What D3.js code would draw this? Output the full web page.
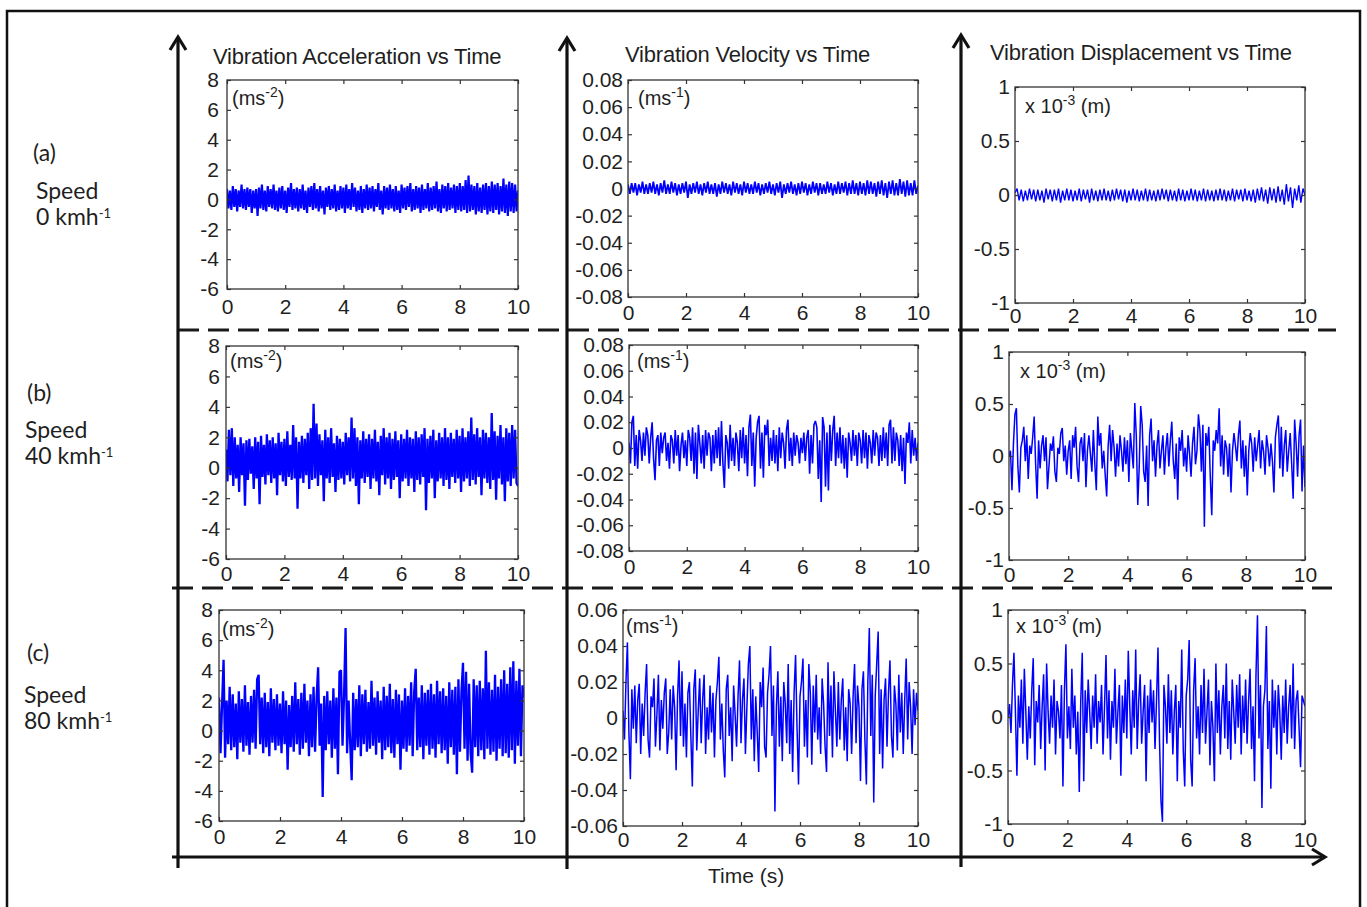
<!DOCTYPE html>
<html>
<head>
<meta charset="utf-8">
<script src="https://cdn.jsdelivr.net/npm/d3@7"></script>
<style>
  html, body { margin: 0; padding: 0; background: #fff; }
  svg { display: block; }
</style>
</head>
<body>
<svg id="fig" width="1367" height="907"></svg>
<script>
// ---------- tick values ----------
const timeTicks = [0, 2, 4, 6, 8, 10];
const accTicks = [-6, -4, -2, 0, 2, 4, 6, 8];
const velTicksWide = [-0.08, -0.06, -0.04, -0.02, 0, 0.02, 0.04, 0.06, 0.08];
const velTicksNarrow = [-0.06, -0.04, -0.02, 0, 0.02, 0.04, 0.06];
const dispTicks = [-1, -0.5, 0, 0.5, 1];

// ---------- labels ----------
const columnTitles = ["Vibration Acceleration vs Time", "Vibration Velocity vs Time", "Vibration Displacement vs Time"];
const rowTags = ["(a)", "(b)", "(c)"];
const rowSpeeds = ["0", "40", "80"];
const timeLabel = "Time (s)";

// ---------- recorded signals, uniformly sampled over 0–10 s ----------
// acceleration (m s^-2)
const accA = [
  0.7,-0.6,0.6,-0.7,0.9,-0.5,0.7,-0.8,0.6,-0.5,
  1.0,-0.6,0.7,-0.7,0.8,-0.5,0.7,-0.9,0.6,-0.6,
  0.7,-1.1,0.8,-0.6,1.0,-0.7,0.6,-0.8,0.9,-0.5,
  0.7,-0.6,1.0,-0.7,0.6,-0.8,0.8,-0.6,0.9,-0.7,
  0.6,-0.9,0.8,-0.5,1.1,-0.7,0.7,-0.6,0.8,-0.8,
  0.7,-0.6,1.0,-0.7,0.6,-0.9,0.8,-0.5,0.9,-0.7,
  1.1,-0.6,0.7,-0.8,0.9,-0.6,0.6,-1.0,0.8,-0.5,
  0.9,-0.7,0.7,-0.6,1.0,-0.8,0.6,-0.7,0.9,-0.6,
  0.8,-0.9,1.0,-0.6,0.7,-0.7,1.1,-0.5,0.8,-0.8,
  0.6,-0.7,0.9,-0.9,0.7,-0.6,1.0,-0.7,0.8,-0.6,
  0.9,-0.8,0.7,-0.5,1.1,-0.7,0.6,-1.0,0.9,-0.6,
  0.8,-0.7,1.0,-0.6,0.7,-0.8,0.9,-0.7,0.6,-0.9,
  1.0,-0.6,0.8,-0.7,0.9,-0.5,1.1,-0.8,0.7,-0.7,
  0.9,-0.6,0.8,-0.9,1.0,-0.7,0.7,-0.6,1.1,-0.8,
  0.8,-0.7,0.9,-0.6,1.2,-0.8,0.7,-0.9,1.0,-0.6,
  0.9,-0.8,1.1,-0.7,0.8,-0.6,1.0,-0.9,0.9,-0.7,
  1.1,-0.8,0.9,-0.7,1.3,-0.9,1.6,-0.8,1.0,-0.7,
  0.9,-1.0,1.1,-0.8,0.8,-0.9,1.0,-0.7,1.1,-1.0,
  0.9,-0.8,1.2,-0.9,1.0,-0.7,1.1,-1.0,0.9,-0.8,
  1.4,-0.9,1.0,-1.1,1.2,-0.8,1.1,-0.9,1.0,-0.8,
  0.6
];
const accB = [
  1.2,-0.9,2.5,-0.5,2.6,-1.2,2.0,-0.7,1.5,-1.6,
  2.0,-0.5,1.6,-2.5,1.8,-0.8,1.9,-0.4,1.4,-1.4,
  2.0,-0.7,1.7,-2.4,2.1,-0.6,1.5,-1.1,2.2,-0.5,
  1.8,-1.0,2.0,-0.7,1.6,-1.8,2.3,-0.5,1.7,-0.9,
  1.9,-1.2,2.4,-0.6,1.5,-0.8,2.8,-0.7,2.0,-2.7,
  1.7,-0.7,2.1,-1.0,1.9,-0.5,2.3,-1.4,2.6,-0.8,
  4.2,-0.7,2.9,-1.2,2.2,-0.5,1.8,-2.2,2.5,-0.7,
  2.0,-1.0,2.6,-0.6,1.6,-1.6,2.1,-0.8,1.9,-0.7,
  1.7,-1.1,2.3,-0.5,2.0,-0.9,3.3,-0.7,2.6,-1.2,
  2.0,-2.4,1.8,-0.7,2.4,-1.0,1.9,-0.6,2.2,-1.4,
  1.9,-0.7,2.5,-0.9,1.7,-1.8,2.1,-0.5,2.6,-1.1,
  2.0,-0.7,2.3,-1.4,1.9,-0.8,2.4,-0.6,1.8,-2.0,
  2.2,-0.9,1.9,-0.7,2.5,-1.2,2.0,-0.7,1.9,-1.6,
  2.4,-0.8,2.0,-1.1,2.2,-0.6,2.6,-2.8,1.9,-1.0,
  2.1,-0.7,2.5,-2.0,1.8,-0.9,2.3,-0.7,2.0,-1.2,
  2.6,-0.8,2.0,-1.4,2.3,-0.6,1.9,-1.0,2.5,-0.7,
  2.1,-1.6,2.6,-0.9,2.0,-0.7,2.4,-1.2,3.3,-0.8,
  2.2,-1.1,2.6,-0.6,2.0,-1.8,2.5,-0.7,2.3,-1.0,
  2.0,-1.4,3.6,-0.8,2.4,-2.1,2.1,-0.7,2.8,-1.1,
  2.0,-2.2,2.6,-0.9,2.3,-1.2,2.8,-0.7,2.5,-1.0,
  -1.2
];
const accC = [
  2.2,-1.5,1.7,4.7,-1.8,2.0,-0.9,2.9,-1.3,2.4,
  -1.1,1.8,-1.9,2.6,-0.8,2.1,-1.4,3.0,-1.0,1.9,
  -1.6,2.3,-0.8,2.7,-1.2,3.4,3.7,-0.9,2.2,-1.5,
  2.5,-1.1,1.9,-1.7,2.8,-0.8,2.1,-1.3,2.4,-1.0,
  1.8,-1.5,2.6,-0.9,2.0,-2.6,1.7,-1.1,2.3,-1.4,
  3.2,-0.9,2.1,-1.6,2.5,-1.2,3.1,-0.8,2.0,-1.7,
  2.4,-1.1,2.9,-1.4,2.2,4.2,-1.0,1.8,-4.4,2.3,
  -1.3,2.6,-0.9,2.0,-1.8,2.8,-1.2,2.2,-2.9,3.9,
  4.0,-1.0,2.3,6.8,-1.5,2.0,-0.8,-3.3,2.5,-1.3,
  2.1,-1.1,3.0,-1.7,2.4,-0.9,2.7,-1.4,1.9,-1.2,
  3.3,-1.0,2.2,-1.6,2.6,-0.8,2.0,-1.9,2.9,-1.3,
  2.3,-1.1,3.1,-1.5,2.1,-1.8,2.7,-0.9,2.4,-2.6,
  2.0,-1.2,2.8,-1.4,2.3,-1.0,3.2,-1.7,2.6,4.1,
  -1.3,2.2,-1.1,3.0,-1.9,2.5,-1.0,2.7,-1.6,3.1,
  -1.2,2.4,-1.8,3.3,-0.9,2.6,-1.5,2.8,-1.3,2.3,
  -2.2,3.2,-1.1,2.7,-1.6,2.9,-2.9,3.4,-1.4,2.6,
  4.5,-1.2,3.9,-2.0,3.1,-1.5,-2.8,3.4,-1.1,3.0,
  -1.7,3.3,-1.3,2.8,-1.9,5.3,-1.2,3.2,-1.6,2.7,
  -1.4,3.7,-2.0,2.9,-1.2,3.4,-1.7,4.0,-1.5,3.1,
  -1.8,4.2,-1.3,4.6,-2.2,3.3,-1.0,4.1,-1.7,3.0,
  2.2
];

// velocity (m s^-1)
const velA = [
  0.003,-0.004,0.004,-0.003,0.004,-0.005,0.003,-0.003,0.005,-0.004,
  0.003,-0.004,0.004,-0.003,0.005,-0.004,0.003,-0.005,0.004,-0.003,
  0.006,-0.004,0.003,-0.004,0.005,-0.003,0.004,-0.005,0.003,-0.004,
  0.004,-0.003,0.005,-0.007,0.003,-0.004,0.004,-0.003,0.005,-0.004,
  0.003,-0.005,0.004,-0.003,0.005,-0.004,0.003,-0.004,0.004,-0.006,
  0.003,-0.004,0.005,-0.003,0.004,-0.004,0.003,-0.005,0.005,-0.003,
  0.004,-0.004,0.003,-0.005,0.005,-0.003,0.004,-0.004,0.003,-0.004,
  0.005,-0.003,0.004,-0.005,0.003,-0.004,0.004,-0.003,0.005,-0.004,
  0.003,-0.005,0.004,-0.003,0.005,-0.007,0.003,-0.004,0.004,-0.003,
  0.005,-0.004,0.003,-0.005,0.004,-0.004,0.005,-0.003,0.004,-0.005,
  0.003,-0.004,0.005,-0.003,0.004,-0.005,0.004,-0.004,0.003,-0.004,
  0.005,-0.003,0.004,-0.005,0.003,-0.004,0.005,-0.004,0.004,-0.003,
  0.005,-0.005,0.004,-0.004,0.006,-0.004,0.004,-0.005,0.005,-0.004,
  0.004,-0.005,0.006,-0.004,0.005,-0.004,0.004,-0.006,0.005,-0.004,
  0.006,-0.005,0.004,-0.007,0.005,-0.004,0.006,-0.005,0.004,-0.005,
  0.007,-0.004,0.005,-0.006,0.006,-0.005,0.004,-0.005,0.006,-0.004,
  0.002
];
const velB = [
  0.004,-0.012,0.020,0.025,-0.014,0.010,-0.016,0.014,0.006,-0.010,0.012,-0.006,0.016,0.010,-0.012,0.008,0.020,-0.008,-0.025,0.006,
  0.010,-0.014,0.012,-0.004,0.008,0.012,-0.010,0.004,-0.016,0.010,0.006,-0.012,0.014,-0.006,0.010,-0.018,0.002,0.012,-0.008,0.006,
  -0.014,0.014,0.008,-0.010,0.016,-0.020,0.012,-0.024,0.018,0.004,-0.012,0.010,-0.016,0.014,-0.006,0.012,0.008,-0.018,0.010,-0.012,
  0.014,-0.008,0.016,-0.014,0.021,-0.012,-0.031,0.010,0.004,-0.016,0.018,-0.010,0.008,-0.014,0.012,0.004,-0.018,0.014,-0.008,0.016,
  -0.012,0.010,-0.022,0.016,0.026,-0.014,0.012,-0.030,0.008,0.020,0.025,-0.016,0.012,-0.023,0.018,0.010,0.022,-0.014,0.008,-0.010,
  0.014,-0.012,0.010,-0.018,0.016,-0.008,0.012,0.004,-0.016,0.014,0.022,-0.010,0.008,-0.014,0.012,-0.006,0.010,0.004,-0.012,0.008,
  -0.004,0.012,-0.010,0.008,0.014,-0.020,0.010,-0.012,0.018,0.021,0.016,-0.024,0.006,-0.042,0.024,0.016,-0.030,0.012,-0.033,0.018,
  -0.010,0.014,0.025,-0.014,0.012,-0.008,0.016,-0.012,0.010,-0.016,0.008,-0.023,0.012,0.004,-0.010,0.014,-0.006,0.010,-0.014,0.012,
  0.006,-0.012,0.014,-0.008,0.012,-0.016,0.010,0.004,-0.012,0.014,-0.006,0.012,0.008,-0.014,0.010,-0.010,0.016,-0.008,0.012,-0.014,
  0.018,0.022,-0.012,0.016,-0.010,0.012,0.006,-0.014,0.010,-0.018,0.008,-0.028,0.012,0.004,0.020,-0.012,0.014,-0.006,0.008,-0.010,
  0.004
];
const velC = [
  0.004,-0.012,0.020,0.042,-0.008,-0.034,0.016,-0.006,0.018,-0.014,0.010,0.019,-0.020,0.008,-0.010,0.014,0.030,-0.012,-0.022,0.012,
  0.006,0.022,-0.016,0.002,0.024,-0.018,0.010,-0.006,0.014,0.022,-0.020,-0.008,0.016,-0.012,0.018,0.006,-0.029,0.012,0.032,-0.010,
  0.026,-0.016,0.008,-0.022,0.014,0.020,-0.010,-0.038,0.016,0.027,-0.018,0.004,0.022,-0.014,0.010,0.024,-0.020,0.006,-0.012,0.018,
  -0.008,0.014,-0.022,0.010,0.020,0.034,-0.012,0.008,-0.018,-0.033,0.016,0.024,-0.010,0.006,-0.024,0.018,0.002,-0.016,0.012,0.032,
  -0.014,0.010,0.022,-0.020,0.006,0.030,0.040,-0.012,0.016,-0.024,0.012,-0.008,-0.030,0.020,0.006,0.028,-0.016,-0.022,0.014,0.024,
  0.040,-0.010,0.018,-0.052,0.006,0.026,-0.016,0.012,-0.024,0.020,0.008,-0.014,0.030,-0.020,0.010,-0.030,0.014,0.035,-0.006,-0.037,
  0.012,0.020,0.033,-0.016,0.010,-0.022,0.030,0.014,-0.026,0.018,-0.008,0.024,-0.012,0.006,-0.020,0.022,0.008,-0.016,-0.030,0.031,
  -0.010,0.018,-0.022,0.026,0.004,-0.016,0.020,-0.012,0.010,0.022,-0.018,0.006,-0.024,0.016,0.008,-0.020,0.012,0.030,-0.014,0.018,
  0.006,-0.035,0.016,0.026,-0.012,-0.037,0.020,0.050,-0.010,0.024,-0.047,0.012,0.030,0.048,-0.020,0.016,-0.028,0.010,0.022,-0.016,
  0.014,0.032,-0.010,-0.022,0.018,0.008,-0.018,0.024,-0.008,0.014,-0.020,0.010,0.033,-0.012,0.020,0.006,-0.020,0.016,-0.004,0.014,
  0.004
];

// displacement (x 10^-3 m)
const dispA = [
  0.02,0.06,-0.05,0.05,-0.06,0.04,-0.05,0.06,-0.04,0.05,
  -0.06,0.05,-0.05,0.04,-0.07,0.06,-0.04,0.05,-0.06,0.05,
  -0.05,0.06,-0.07,0.04,-0.05,0.06,-0.05,0.05,-0.06,0.04,
  -0.05,0.06,-0.06,0.05,-0.04,0.05,-0.07,0.06,-0.05,0.04,
  -0.06,0.05,-0.05,0.06,-0.05,0.04,-0.06,0.05,-0.05,0.06,
  -0.04,0.05,-0.06,0.05,-0.07,0.04,-0.05,0.06,-0.05,0.05,
  -0.06,0.04,-0.05,0.06,-0.06,0.05,-0.05,0.04,-0.06,0.05,
  -0.05,0.06,-0.04,0.05,-0.06,0.05,-0.05,0.04,-0.06,0.06,
  -0.05,0.05,-0.06,0.04,-0.05,0.06,-0.05,0.05,-0.06,0.04,
  -0.05,0.06,-0.06,0.05,-0.05,0.04,-0.06,0.05,-0.05,0.06,
  -0.05,0.05,-0.06,0.04,-0.05,0.06,-0.06,0.05,-0.04,0.05,
  -0.06,0.06,-0.05,0.04,-0.06,0.05,-0.07,0.06,-0.05,0.07,
  -0.06,0.05,-0.08,0.07,-0.05,0.06,-0.07,0.08,-0.06,0.05,
  -0.09,0.10,-0.06,0.07,-0.12,0.06,-0.05,0.09,-0.07,0.06,
  0.0
];
const dispB = [
  0.0,0.05,-0.33,0.12,0.40,0.46,-0.10,-0.35,0.08,0.15,0.28,-0.05,0.20,-0.22,0.10,0.02,0.18,0.38,-0.08,-0.41,
  0.15,-0.12,0.10,0.20,-0.05,0.18,-0.32,-0.10,0.12,0.05,0.19,-0.15,-0.25,0.08,0.02,0.22,0.27,-0.05,0.10,-0.18,
  0.05,0.15,-0.22,0.20,0.08,0.28,-0.10,-0.25,0.12,0.18,-0.05,0.22,-0.30,0.05,0.20,0.02,-0.15,0.25,-0.08,-0.33,
  0.38,0.10,0.22,-0.12,0.05,-0.18,-0.39,0.10,0.30,-0.05,0.25,0.08,-0.20,0.12,-0.10,0.20,0.05,-0.15,0.18,-0.08,
  0.15,-0.25,0.22,0.05,-0.12,0.51,0.20,-0.47,-0.10,0.48,0.30,-0.15,-0.25,0.10,-0.48,0.20,0.36,-0.05,0.15,-0.20,
  0.10,0.25,-0.12,0.05,0.20,-0.18,0.08,0.22,-0.10,0.15,0.33,-0.05,-0.22,0.12,-0.42,0.18,0.05,0.25,-0.10,0.08,
  -0.15,0.20,0.02,-0.20,0.12,0.28,-0.08,0.05,0.40,0.25,-0.15,0.30,-0.68,0.22,0.10,0.28,-0.20,-0.57,0.15,0.05,
  0.25,0.12,0.46,-0.10,0.20,-0.18,0.15,0.08,-0.20,0.12,-0.35,0.05,0.22,0.10,-0.05,0.20,0.34,-0.12,0.15,-0.20,
  0.10,-0.38,0.05,0.22,0.12,-0.15,0.18,-0.05,0.10,0.25,-0.12,0.15,0.05,-0.18,0.20,0.08,-0.10,0.12,-0.05,-0.35,
  0.18,0.30,0.39,-0.12,0.28,-0.20,0.10,0.25,-0.15,0.05,0.22,-0.08,-0.41,0.35,0.12,-0.20,0.20,0.35,-0.34,0.10,
  -0.30
];
const dispC = [
  0.0,0.12,-0.15,0.30,0.60,0.05,-0.55,0.20,-0.10,0.35,-0.25,0.45,0.05,-0.40,0.10,-0.20,0.25,0.55,-0.45,0.15,
  -0.05,0.30,-0.30,0.10,0.40,-0.50,0.50,0.05,-0.25,0.20,-0.10,0.35,-0.35,0.15,0.05,-0.20,0.30,-0.65,0.25,0.68,
  -0.20,0.10,-0.30,0.45,-0.10,0.20,-0.35,0.05,-0.70,0.15,0.60,-0.60,0.25,-0.15,0.35,0.05,-0.30,0.20,-0.10,0.40,
  -0.25,0.15,-0.05,0.30,-0.35,0.10,0.58,-0.20,0.25,-0.40,0.15,-0.10,0.45,-0.25,0.05,0.30,-0.55,0.20,-0.15,0.35,
  -0.20,0.62,0.10,-0.35,0.25,-0.10,0.63,-0.30,0.15,0.40,-0.25,0.05,0.30,-0.60,0.20,-0.15,0.35,-0.05,0.25,-0.30,
  0.15,0.65,-0.20,-0.78,-0.98,0.30,0.10,-0.25,0.40,-0.15,0.25,-0.35,0.05,0.30,-0.60,0.15,-0.10,0.63,-0.30,-0.65,
  0.20,0.35,0.72,-0.40,-0.65,0.25,0.55,-0.20,0.10,-0.35,0.30,-0.15,0.45,-0.25,0.05,0.35,-0.45,0.15,-0.10,-0.60,
  0.50,-0.15,0.25,-0.35,0.10,0.30,-0.20,0.50,-0.30,0.15,-0.40,0.35,0.05,-0.25,0.30,-0.10,0.40,-0.35,0.20,-0.15,
  0.35,-0.25,0.15,0.45,-0.30,0.10,-0.60,0.40,0.95,-0.20,0.30,-0.85,0.10,0.25,0.85,-0.30,0.15,-0.67,0.35,-0.10,
  0.25,-0.35,0.30,0.05,-0.40,0.20,-0.15,0.35,-0.25,0.10,0.30,-0.20,0.50,-0.30,0.15,0.25,-0.10,-0.47,0.20,0.15,
  0.10
];

// ---------- drawing ----------
const svg = d3.select("#fig");
const INK = "#1f1f1f";
const SIGNAL = "#0000ff";
const LABEL_FONT = "'Liberation Sans', Arial, sans-serif";
const ROW_FONT = "Lato, 'Open Sans', sans-serif";

const fmtPlain = d => String(d);
const fmtVel = d => d === 0 ? "0" : d.toFixed(2);

const units = {
  acc:  { pre: "(ms", sup: "-2", post: ")" },
  vel:  { pre: "(ms", sup: "-1", post: ")" },
  disp: { pre: "x 10", sup: "-3", post: " (m)" }
};

// plot-area boxes: [left, top, right, bottom]
const panels = [
  { data: accA,  domain: [-6, 8],        ticks: accTicks,       fmt: fmtPlain, unit: "acc",  box: [227, 80, 518, 289],  yPad: 8, xPad: 10, unitAt: [232, 105], sw: 2.2 },
  { data: velA,  domain: [-0.08, 0.08],  ticks: velTicksWide,   fmt: fmtVel,   unit: "vel",  box: [628, 80, 918, 297],  yPad: 5, xPad: 8,  unitAt: [638, 105], sw: 1.8 },
  { data: dispA, domain: [-1, 1],        ticks: dispTicks,      fmt: fmtPlain, unit: "disp", box: [1015, 87, 1305, 303], yPad: 5, xPad: 5,  unitAt: [1025, 113], sw: 1.4 },
  { data: accB,  domain: [-6, 8],        ticks: accTicks,       fmt: fmtPlain, unit: "acc",  box: [226, 346, 518, 559], yPad: 6, xPad: 7,  unitAt: [230, 368], sw: 2.3 },
  { data: velB,  domain: [-0.08, 0.08],  ticks: velTicksWide,   fmt: fmtVel,   unit: "vel",  box: [629, 345, 918, 551], yPad: 5, xPad: 8,  unitAt: [637, 368], sw: 1.6 },
  { data: dispB, domain: [-1, 1],        ticks: dispTicks,      fmt: fmtPlain, unit: "disp", box: [1009, 352, 1305, 560], yPad: 5, xPad: 7, unitAt: [1020, 378], sw: 1.5 },
  { data: accC,  domain: [-6, 8],        ticks: accTicks,       fmt: fmtPlain, unit: "acc",  box: [219, 610, 524, 821], yPad: 6, xPad: 8,  unitAt: [222, 636], sw: 2.3 },
  { data: velC,  domain: [-0.06, 0.06],  ticks: velTicksNarrow, fmt: fmtVel,   unit: "vel",  box: [623, 610, 918, 826], yPad: 5, xPad: 6,  unitAt: [626, 633], sw: 1.5 },
  { data: dispC, domain: [-1, 1],        ticks: dispTicks,      fmt: fmtPlain, unit: "disp", box: [1008, 610, 1305, 824], yPad: 5, xPad: 8, unitAt: [1016, 633], sw: 1.5 }
];

function styleAxis(sel) {
  sel.select(".domain").remove();
  sel.selectAll(".tick line").attr("stroke", "#333").attr("stroke-width", 1.2);
  sel.selectAll(".tick text").attr("fill", INK);
  sel.attr("font-size", 21).attr("font-family", LABEL_FONT);
}

panels.forEach((p, k) => {
  const [x0, y0, x1, y1] = p.box;
  const x = d3.scaleLinear().domain([0, 10]).range([x0, x1]);
  const y = d3.scaleLinear().domain(p.domain).range([y1, y0]);
  const g = svg.append("g");
  const clipId = "clip" + k;

  g.append("clipPath").attr("id", clipId)
    .append("rect").attr("x", x0).attr("y", y0).attr("width", x1 - x0).attr("height", y1 - y0);

  const n = p.data.length;
  const line = d3.line()
    .x((d, i) => x(i * 10 / (n - 1)))
    .y(d => y(d));
  g.append("path")
    .datum(p.data)
    .attr("clip-path", `url(#${clipId})`)
    .attr("fill", "none")
    .attr("stroke", SIGNAL)
    .attr("stroke-width", p.sw)
    .attr("stroke-linejoin", "bevel")
    .attr("d", line);

  g.append("g").attr("transform", `translate(${x0},0)`)
    .call(d3.axisLeft(y).tickValues(p.ticks).tickFormat(p.fmt).tickSizeInner(-4).tickSizeOuter(0).tickPadding(p.yPad))
    .call(styleAxis);
  g.append("g").attr("transform", `translate(${x1},0)`)
    .call(d3.axisRight(y).tickValues(p.ticks).tickFormat("").tickSizeInner(-4).tickSizeOuter(0))
    .call(styleAxis);
  g.append("g").attr("transform", `translate(0,${y1})`)
    .call(d3.axisBottom(x).tickValues(timeTicks).tickFormat(fmtPlain).tickSizeInner(-4).tickSizeOuter(0).tickPadding(p.xPad))
    .call(styleAxis);
  g.append("g").attr("transform", `translate(0,${y0})`)
    .call(d3.axisTop(x).tickValues(timeTicks).tickFormat("").tickSizeInner(-4).tickSizeOuter(0))
    .call(styleAxis);

  g.append("rect")
    .attr("x", x0).attr("y", y0).attr("width", x1 - x0).attr("height", y1 - y0)
    .attr("fill", "none").attr("stroke", "#333").attr("stroke-width", 1.3);

  // unit annotation with superscript exponent
  const u = units[p.unit];
  const t = g.append("text")
    .attr("x", p.unitAt[0]).attr("y", p.unitAt[1])
    .attr("font-family", LABEL_FONT).attr("font-size", 20).attr("fill", INK);
  t.append("tspan").text(u.pre);
  t.append("tspan").attr("dy", -8).attr("font-size", 14).text(u.sup);
  t.append("tspan").attr("dy", 8).text(u.post);
});

// ---------- column titles ----------
const titlePos = [[213, 64], [625, 62], [990, 60]];
columnTitles.forEach((s, i) => {
  svg.append("text")
    .attr("x", titlePos[i][0]).attr("y", titlePos[i][1])
    .attr("font-family", LABEL_FONT).attr("font-size", 22).attr("fill", INK)
    .attr("letter-spacing", -0.2)
    .text(s);
});

// ---------- row captions ----------
const rowPos = [
  { tag: [33, 161], speed: [36, 199], value: [36, 225] },
  { tag: [27, 401], speed: [25, 438], value: [25, 464] },
  { tag: [27, 661], speed: [24, 703], value: [24, 729] }
];
rowTags.forEach((tag, i) => {
  const r = rowPos[i];
  const base = sel => sel.attr("font-family", ROW_FONT).attr("font-size", 23).attr("fill", INK);
  svg.append("text").attr("x", r.tag[0]).attr("y", r.tag[1]).call(base).text(tag);
  svg.append("text").attr("x", r.speed[0]).attr("y", r.speed[1]).call(base).text("Speed");
  const v = svg.append("text").attr("x", r.value[0]).attr("y", r.value[1]).call(base);
  v.append("tspan").text(rowSpeeds[i] + " kmh");
  v.append("tspan").attr("dy", -7).attr("font-size", 13).text("-1");
});

// ---------- framing, separators and arrows ----------
svg.append("rect")
  .attr("x", 7).attr("y", 11).attr("width", 1353).attr("height", 930)
  .attr("fill", "none").attr("stroke", "#111").attr("stroke-width", 2.5);

const dashRows = [[330, 178, 1336], [588, 172, 1332]];
dashRows.forEach(([yy, xa, xb]) => {
  svg.append("line")
    .attr("x1", xa).attr("x2", xb).attr("y1", yy).attr("y2", yy)
    .attr("stroke", "#1a1a1a").attr("stroke-width", 3)
    .attr("stroke-dasharray", "21 9");
});

const upArrows = [[178, 37, 868], [567, 38, 869], [961, 35, 867]];
upArrows.forEach(([xx, ya, yb]) => {
  svg.append("line").attr("x1", xx).attr("x2", xx).attr("y1", ya + 2).attr("y2", yb)
    .attr("stroke", "#111").attr("stroke-width", 3.2);
  svg.append("path").attr("d", `M${xx - 8},${ya + 13} L${xx},${ya} L${xx + 8},${ya + 13}`)
    .attr("fill", "none").attr("stroke", "#111").attr("stroke-width", 3.2);
});

svg.append("line").attr("x1", 172).attr("x2", 1322).attr("y1", 857).attr("y2", 857)
  .attr("stroke", "#111").attr("stroke-width", 3.2);
svg.append("path").attr("d", "M1312,849 L1325,857 L1312,865")
  .attr("fill", "none").attr("stroke", "#111").attr("stroke-width", 3.2);

svg.append("text")
  .attr("x", 708).attr("y", 883)
  .attr("font-family", LABEL_FONT).attr("font-size", 21).attr("fill", INK)
  .text(timeLabel);
</script>
</body>
</html>
